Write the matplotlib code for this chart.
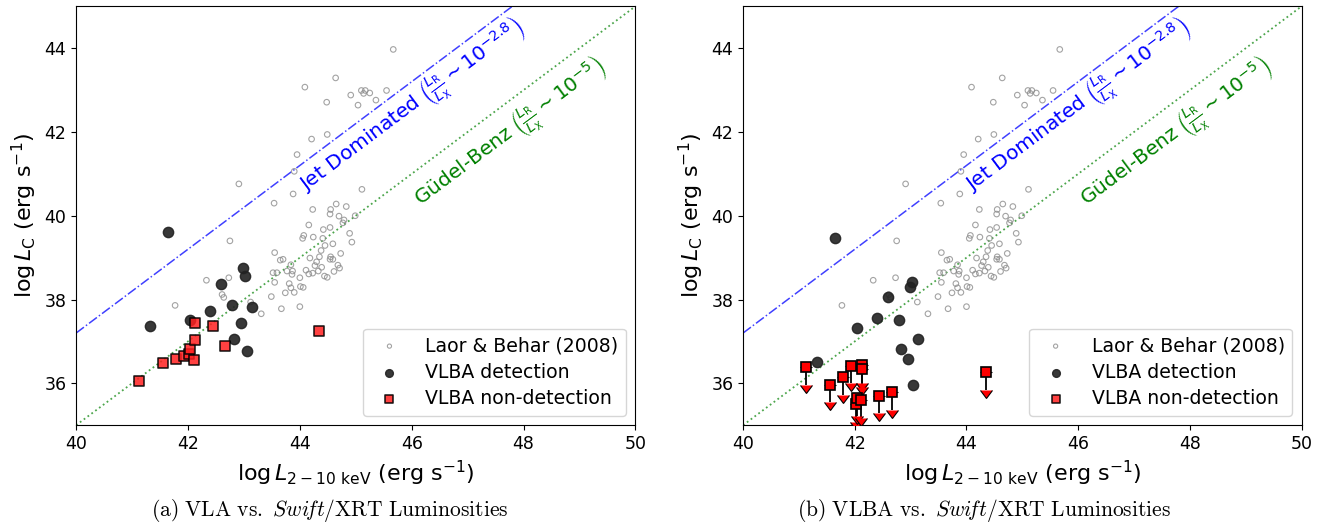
import numpy as np
import matplotlib
matplotlib.use("Agg")
import matplotlib.pyplot as plt

# ---------------------------------------------------------------------
# Laor & Behar (2008) comparison sample (same in both panels)
# ---------------------------------------------------------------------
lb_x = [45.67, 44.64, 44.09, 44.91, 45.10, 45.17, 45.14, 45.25, 45.55, 45.36,
        45.04, 44.48, 44.49, 44.21, 43.95, 43.90, 42.91, 43.88, 45.11,
        43.54, 44.23, 44.55, 44.54, 44.65, 44.83, 44.70, 44.79, 44.77, 44.99,
        44.16, 44.54, 44.42, 44.07, 44.05, 44.24, 44.41, 44.89, 44.93, 44.59,
        44.45, 43.55, 44.38, 44.73, 43.65, 43.70, 44.18, 44.35, 44.55, 44.54,
        44.59, 44.30, 43.84, 44.27, 44.39, 44.68, 44.71, 44.11, 44.33, 43.87,
        43.77, 43.52, 43.59, 43.86, 44.16, 44.23, 44.61, 44.44, 44.49, 44.00,
        43.55, 43.81, 43.84, 44.01, 44.06, 43.74, 43.90, 43.49, 43.67, 44.00,
        43.31, 41.77, 42.33, 42.73, 42.61, 42.64, 42.75, 43.12]
lb_y = [43.97, 43.29, 43.07, 42.88, 42.99, 42.99, 42.92, 42.93, 42.99, 42.76,
        42.64, 42.71, 41.94, 41.83, 41.46, 41.06, 40.76, 40.52, 40.63,
        40.30, 40.15, 40.15, 40.04, 40.28, 40.22, 39.99, 39.90, 39.83, 40.00,
        39.78, 39.72, 39.67, 39.53, 39.46, 39.49, 39.46, 39.58, 39.37, 39.33,
        39.29, 39.12, 39.17, 39.10, 38.94, 38.96, 38.99, 39.02, 39.02, 38.96,
        38.96, 38.90, 38.83, 38.81, 38.77, 38.82, 38.75, 38.70, 38.68, 38.68,
        38.68, 38.64, 38.64, 38.60, 38.61, 38.63, 38.67, 38.56, 38.53, 38.52,
        38.41, 38.38, 38.28, 38.31, 38.29, 38.16, 38.17, 38.07, 37.78, 37.83,
        37.66, 37.86, 38.46, 38.52, 38.12, 38.05, 39.40, 37.94]

# VLBA detections: X-ray luminosity, VLA and VLBA radio luminosity
det_x = [41.64, 41.32, 42.04, 42.40, 42.59, 42.79, 42.98, 43.02, 43.14, 42.95, 42.82, 43.05]
det_vla = [39.61, 37.36, 37.51, 37.72, 38.37, 37.88, 38.75, 38.56, 37.82, 37.45, 37.05, 36.77]
det_vlba = [39.46, 36.51, 37.33, 37.57, 38.06, 37.50, 38.29, 38.42, 37.05, 36.58, 36.81, 35.97]

# VLBA non-detections (VLBA values are upper limits)
nd_x = [41.13, 41.56, 41.79, 41.93, 42.02, 42.04, 42.11, 42.13, 42.13, 42.44, 42.66, 44.35]
nd_vla = [36.05, 36.48, 36.58, 36.65, 36.69, 36.81, 36.55, 37.03, 37.45, 37.37, 36.89, 37.24]
nd_vlba = [36.38, 35.97, 36.14, 36.42, 35.50, 35.65, 35.60, 36.43, 36.33, 35.70, 35.79, 36.26]

# ratios log(L_R/L_X)
jet_ratio = -2.8
gb_ratio = -5.0

fig = plt.figure(figsize=(13.35, 5.23), dpi=100)
ax1 = fig.add_axes([0.057, 0.187, 0.419, 0.801])
ax2 = fig.add_axes([0.5566, 0.187, 0.4184, 0.801])

xx = np.array([40, 50])

for ax, det_y, panel in [(ax1, det_vla, 'a'), (ax2, det_vlba, 'b')]:
    ax.plot(xx, xx + jet_ratio, color='blue', ls='-.', lw=1.1, alpha=0.75)
    ax.plot(xx, xx + gb_ratio, color='green', ls=':', lw=1.3, alpha=0.7)
    ax.scatter(lb_x, lb_y, s=16, facecolors='none', edgecolors='0.55',
               linewidths=0.8, alpha=0.8, label='Laor & Behar (2008)', zorder=2)
    ax.scatter(det_x, det_y, s=55, color='#222222', alpha=0.9,
               label='VLBA detection', zorder=3)
    if panel == 'a':
        ax.scatter(nd_x, nd_vla, s=50, marker='s', color='#ff2020', alpha=0.85,
                   edgecolors='k', linewidths=1.2, label='VLBA non-detection', zorder=4)
    else:
        eb = ax.errorbar(nd_x, nd_vlba, yerr=0.42, uplims=True, fmt='s', ms=7,
                         mfc='red', mec='k', mew=1.2, ecolor='k', elinewidth=1.3,
                         capsize=4, zorder=4)
        for cl in eb[1]:
            cl.set_markerfacecolor('red')
            cl.set_markeredgecolor('k')
            cl.set_markeredgewidth(0.8)
        ax.scatter([], [], s=50, marker='s', color='#ff2020', alpha=0.85,
                   edgecolors='k', linewidths=1.2, label='VLBA non-detection')

    ax.text(46.0, 42.62, r'Jet Dominated $\left(\frac{L_{\rm R}}{L_{\rm X}} \sim 10^{-2.8}\right)$',
            color='blue', fontsize=14.5, rotation=36.8, ha='center', va='center')
    ax.text(47.75, 41.97, r'Güdel-Benz $\left(\frac{L_{\rm R}}{L_{\rm X}} \sim 10^{-5}\right)$',
            color='green', fontsize=14.5, rotation=36.8, ha='center', va='center')

    ax.set_xlim(40, 50)
    ax.set_ylim(35, 45)
    ax.set_xticks([40, 42, 44, 46, 48, 50])
    ax.set_yticks([36, 38, 40, 42, 44])
    ax.tick_params(labelsize=12.5)
    ax.set_xlabel(r'$\log L_{2-10\ \rm keV}$ (erg s$^{-1}$)', fontsize=16)
    ax.set_ylabel(r'$\log L_{\rm C}$ (erg s$^{-1}$)', fontsize=16)
    ax.legend(loc='lower right', fontsize=13.6, handletextpad=0.9, borderpad=0.4,
              labelspacing=0.4, markerscale=0.75, handlelength=2.0)

fig.text(0.247, 0.023, r'$\mathrm{(a)\ VLA\ vs.\ }\mathit{Swi\!ft}\mathrm{/XRT\ Luminosities}$',
         math_fontfamily='cm', fontsize=15.5, ha='center', va='center')
fig.text(0.737, 0.023, r'$\mathrm{(b)\ VLBA\ vs.\ }\mathit{Swi\!ft}\mathrm{/XRT\ Luminosities}$',
         math_fontfamily='cm', fontsize=15.5, ha='center', va='center')

fig.savefig('out.png', dpi=100)
